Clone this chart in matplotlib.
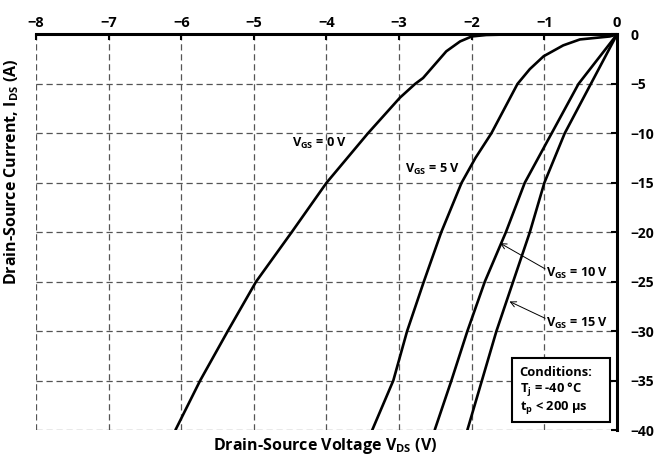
import matplotlib
matplotlib.use('Agg')
import matplotlib.pyplot as plt
from matplotlib.patches import Rectangle

plt.rcParams['font.family'] = ['Open Sans', 'DejaVu Sans']
plt.rcParams['font.weight'] = 'bold'
plt.rcParams['mathtext.default'] = 'regular'

# curves (V_DS in V, I_DS in A)
vgs0_v = [0, -0.5, -1.0, -1.5, -1.8, -2.0, -2.16, -2.35, -2.51, -2.67, -2.78, -2.99, -3.43, -4.0, -4.48, -4.97, -5.36, -5.74, -6.08]
vgs0_i = [0, 0, 0, 0, -0.05, -0.2, -0.7, -1.7, -3.05, -4.4, -5.0, -6.4, -10, -15, -20, -25, -30, -35, -40]

vgs5_v = [0, -0.1, -0.51, -0.74, -1.01, -1.2, -1.37, -1.73, -1.95, -2.14, -2.42, -2.66, -2.89, -3.08, -3.37]
vgs5_i = [0, -0.2, -0.5, -1.1, -2.2, -3.5, -5.0, -10, -12.5, -15, -20, -25, -30, -35, -40]

vgs10_v = [0, -0.53, -0.90, -1.27, -1.53, -1.82, -2.06, -2.28, -2.51]
vgs10_i = [0, -5, -10, -15, -20, -25, -30, -35, -40]

vgs15_v = [0, -0.36, -0.72, -1.0, -1.20, -1.43, -1.66, -1.86, -2.06]
vgs15_i = [0, -5, -10, -15, -20, -25, -30, -35, -40]

x_ticks = [-8, -7, -6, -5, -4, -3, -2, -1, 0]
y_ticks = [0, -5, -10, -15, -20, -25, -30, -35, -40]

fig = plt.figure(figsize=(6.56, 4.58), dpi=100)
ax = fig.add_axes([0.0549, 0.0611, 0.8856, 0.8636])
ax.set_xlim(-8, 0)
ax.set_ylim(-40, 0)

ax.xaxis.tick_top()
ax.yaxis.tick_right()
ax.set_xticks(x_ticks)
ax.set_yticks(y_ticks)
ax.tick_params(axis='x', direction='in', length=4, width=1.5, pad=3, labelsize=10.5)
ax.tick_params(axis='y', direction='in', length=4, width=1.5, pad=10, labelsize=10)
for lab in ax.get_xticklabels() + ax.get_yticklabels():
    lab.set_fontweight('bold')
for lab in ax.get_yticklabels():
    lab.set_horizontalalignment('left')

ax.grid(True, color='#555555', linestyle=(0, (5, 3)), linewidth=0.9)
ax.spines['left'].set_visible(False)
ax.spines['bottom'].set_visible(False)
ax.spines['top'].set_linewidth(2.2)
ax.spines['right'].set_linewidth(2.2)

for xs, ys in [(vgs0_v, vgs0_i), (vgs5_v, vgs5_i), (vgs10_v, vgs10_i), (vgs15_v, vgs15_i)]:
    ax.plot(xs, ys, color='black', linewidth=1.9, solid_capstyle='round', solid_joinstyle='round', zorder=3)

ax.text(-4.47, -11.0, r'V$_{GS}$ = 0 V', fontsize=9.2, fontweight='bold', va='center', ha='left', zorder=4)
ax.text(-2.92, -13.6, r'V$_{GS}$ = 5 V', fontsize=9.2, fontweight='bold', va='center', ha='left', zorder=4)
ax.text(-0.98, -24.15, r'V$_{GS}$ = 10 V', fontsize=9.2, fontweight='bold', va='center', ha='left', zorder=4)
ax.text(-0.98, -29.2, r'V$_{GS}$ = 15 V', fontsize=9.2, fontweight='bold', va='center', ha='left', zorder=4)

ax.annotate('', xy=(-1.61, -21.1), xytext=(-0.99, -23.7),
            arrowprops=dict(arrowstyle='->', color='black', lw=0.7, shrinkA=0, shrinkB=0), zorder=4)
ax.annotate('', xy=(-1.48, -27.0), xytext=(-0.99, -28.7),
            arrowprops=dict(arrowstyle='->', color='black', lw=0.7, shrinkA=0, shrinkB=0), zorder=4)

box = Rectangle((-1.44, -39.2), 1.35, 6.5, facecolor='white', edgecolor='black', linewidth=1.5, zorder=5)
ax.add_patch(box)
ax.text(-1.34, -34.2, 'Conditions:', fontsize=9.3, fontweight='bold', va='center', ha='left', zorder=6)
ax.text(-1.34, -35.95, r'T$_{j}$ = -40 °C', fontsize=9.3, fontweight='bold', va='center', ha='left', zorder=6)
ax.text(-1.34, -37.7, r't$_{p}$ < 200 µs', fontsize=9.3, fontweight='bold', va='center', ha='left', zorder=6)

fig.text(325 / 656, 1 - 446 / 458, r'Drain-Source Voltage V$_{DS}$ (V)', fontsize=11.5, fontweight='bold',
         ha='center', va='center')
fig.text(12 / 656, 1 - 172 / 458, r'Drain-Source Current, I$_{DS}$ (A)', fontsize=11.5, fontweight='bold',
         ha='center', va='center', rotation=90)

fig.savefig('out.png', dpi=100)
